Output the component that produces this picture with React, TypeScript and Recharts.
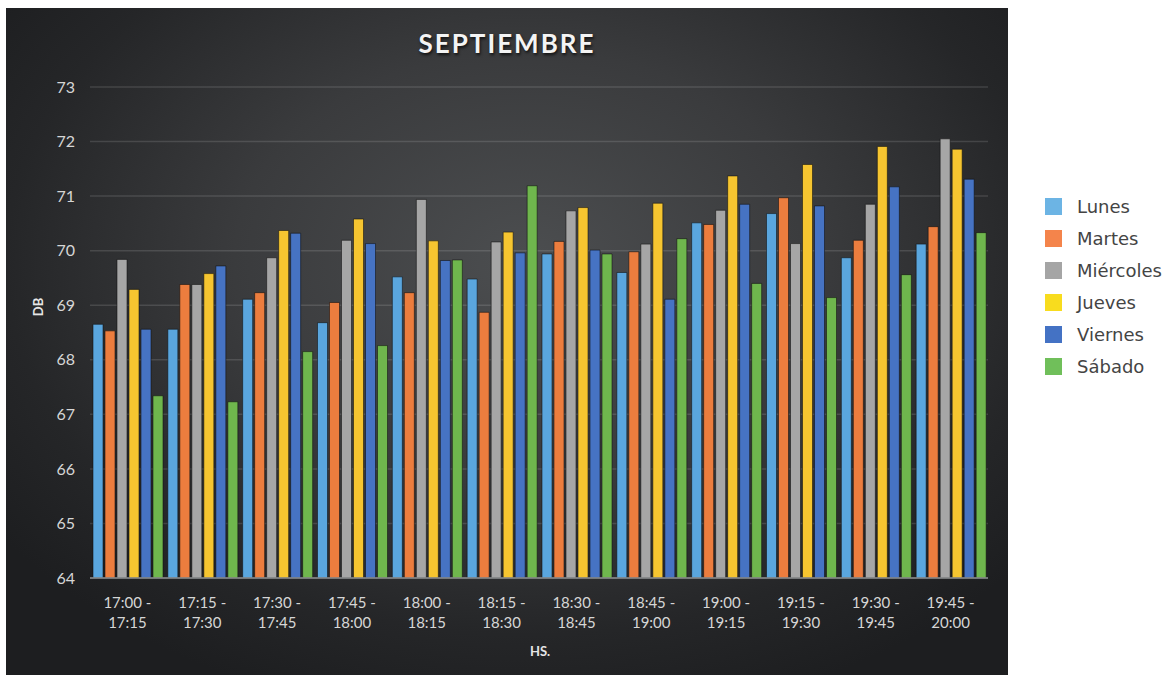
import { BarChart, Bar, XAxis, YAxis, CartesianGrid, Legend } from 'recharts';

const categories = [
  '17:00 - 17:15', '17:15 - 17:30', '17:30 - 17:45', '17:45 - 18:00',
  '18:00 - 18:15', '18:15 - 18:30', '18:30 - 18:45', '18:45 - 19:00',
  '19:00 - 19:15', '19:15 - 19:30', '19:30 - 19:45', '19:45 - 20:00',
];

const lunes = [68.65, 68.56, 69.11, 68.68, 69.52, 69.48, 69.94, 69.6, 70.51, 70.68, 69.87, 70.12];
const martes = [68.53, 69.38, 69.23, 69.05, 69.23, 68.87, 70.17, 69.98, 70.48, 70.97, 70.19, 70.44];
const miercoles = [69.84, 69.38, 69.87, 70.19, 70.94, 70.16, 70.73, 70.12, 70.74, 70.13, 70.85, 72.05];
const jueves = [69.29, 69.58, 70.37, 70.58, 70.18, 70.34, 70.79, 70.87, 71.37, 71.58, 71.91, 71.86];
const viernes = [68.56, 69.72, 70.32, 70.13, 69.82, 69.96, 70.01, 69.11, 70.85, 70.82, 71.17, 71.31];
const sabado = [67.34, 67.23, 68.15, 68.26, 69.83, 71.19, 69.94, 70.22, 69.4, 69.14, 69.56, 70.33];

const yTicks = [64, 65, 66, 67, 68, 69, 70, 71, 72, 73];

const series = [
  { key: 'Lunes', values: lunes, color: '#5aa6de', legend: '#6cb4e4' },
  { key: 'Martes', values: martes, color: '#ec7d3e', legend: '#f4844b' },
  { key: 'Miércoles', values: miercoles, color: '#a6a6a6', legend: '#a5a5a5' },
  { key: 'Jueves', values: jueves, color: '#f6c530', legend: '#f8dc1e' },
  { key: 'Viernes', values: viernes, color: '#4673c3', legend: '#4472c4' },
  { key: 'Sábado', values: sabado, color: '#6fb64d', legend: '#70bf5a' },
];

const data = categories.map((name, i) => {
  const row: Record<string, string | number> = { name };
  series.forEach((s) => {
    row[s.key] = s.values[i];
  });
  return row;
});

const tickFont = 'Lato, "Liberation Sans", sans-serif';

function TimeTick(props: any) {
  const { x, y, payload } = props;
  const [a, b] = String(payload.value).split(' - ');
  return (
    <g>
      <text x={x} y={y + 30} textAnchor="middle" fill="#d6d6d6" fontSize={15} fontFamily={tickFont}>
        {a} -
      </text>
      <text x={x} y={y + 50} textAnchor="middle" fill="#d6d6d6" fontSize={15} fontFamily={tickFont}>
        {b}
      </text>
    </g>
  );
}

function LegendBox() {
  return (
    <div style={{ fontFamily: '"DejaVu Sans", sans-serif' }}>
      {series.map((s) => (
        <div key={s.key} style={{ display: 'flex', alignItems: 'center', height: 32 }}>
          <div style={{ width: 17, height: 17, background: s.legend, marginRight: 15 }} />
          <span style={{ fontSize: 18, color: '#444' }}>{s.key}</span>
        </div>
      ))}
    </div>
  );
}

export default function App() {
  return (
    <div style={{ position: 'absolute', left: 0, top: 0, width: 1172, height: 675, background: '#fff', overflow: 'hidden' }}>
      <div
        style={{
          position: 'absolute',
          left: 6,
          top: 8,
          width: 1002,
          height: 667,
          background: 'radial-gradient(ellipse 65% 70% at 52% 38%, #4c4e50 0%, #3a3b3d 45%, #252628 80%, #1d1e20 100%)',
        }}
      />
      <div
        style={{
          position: 'absolute',
          left: 6,
          top: 27,
          width: 1002,
          textAlign: 'center',
          color: '#f4f4f4',
          fontFamily: tickFont,
          fontWeight: 700,
          fontSize: 26,
          letterSpacing: 2,
          textShadow: '1px 2px 3px rgba(0,0,0,0.7)',
        }}
      >
        SEPTIEMBRE
      </div>
      <div style={{ position: 'absolute', left: 0, top: 0 }}>
        <BarChart
          width={1172}
          height={675}
          data={data}
          margin={{ top: 87, right: 184, left: 0, bottom: 0 }}
          barCategoryGap={3}
          barGap={2}
        >
          <CartesianGrid stroke="rgba(255,255,255,0.13)" vertical={false} strokeWidth={1.5} />
          <XAxis
            dataKey="name"
            height={97}
            tickLine={false}
            tickSize={0}
            tickMargin={0}
            interval={0}
            axisLine={{ stroke: '#8d8f91', strokeWidth: 1.5 }}
            tick={<TimeTick />}
            label={{
              content: () => (
                <text x={540} y={656} textAnchor="middle" fill="#e6e6e6" fontSize={13} fontWeight={700} fontFamily={tickFont}>
                  HS.
                </text>
              ),
            }}
          />
          <YAxis
            width={90}
            domain={[64, 73]}
            ticks={yTicks}
            tickLine={false}
            axisLine={false}
            tickSize={0}
            tickMargin={15}
            tick={{ fill: '#d6d6d6', fontSize: 16, fontFamily: tickFont }}
            label={{
              content: () => (
                <text
                  x={40}
                  y={307}
                  transform="rotate(-90 40 307)"
                  textAnchor="middle"
                  dominantBaseline="middle"
                  fill="#e6e6e6"
                  fontSize={13}
                  fontWeight={700}
                  fontFamily={tickFont}
                >
                  DB
                </text>
              ),
            }}
          />
          <Legend
            layout="vertical"
            align="center"
            verticalAlign="middle"
            wrapperStyle={{ position: 'absolute', left: 1045, top: 190, width: 127 }}
            content={() => <LegendBox />}
          />
          {series.map((s) => (
            <Bar
              key={s.key}
              dataKey={s.key}
              fill={s.color}
              stroke="rgba(15,15,15,0.55)"
              strokeWidth={1}
              isAnimationActive={false}
            />
          ))}
        </BarChart>
      </div>
    </div>
  );
}
